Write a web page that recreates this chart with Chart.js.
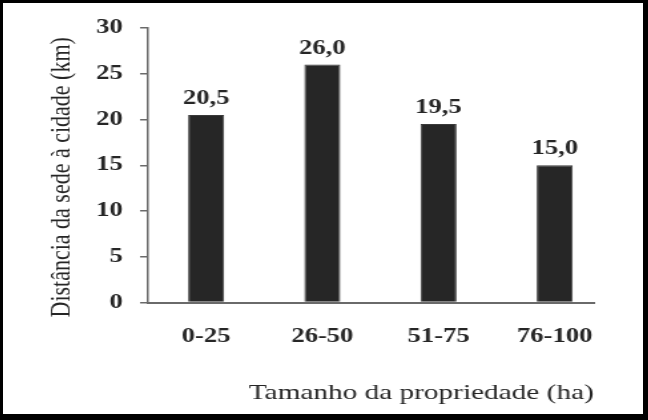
<!DOCTYPE html>
<html>
<head>
<meta charset="utf-8">
<script src="https://cdn.jsdelivr.net/npm/chart.js@4.4.1/dist/chart.umd.min.js"></script>
<style>
  html, body { margin: 0; padding: 0; background: #fff; }
  #frame {
    box-sizing: border-box;
    width: 648px; height: 420px;
    border-style: solid; border-color: #000;
    border-width: 3px 5px 6px 3px;
    background: #fff;
  }
</style>
</head>
<body>
<div id="frame">
  <!-- the original picture is stretched sideways, so the canvas is too -->
  <canvas id="chart" width="481" height="411" style="width:640px;height:411px"></canvas>
</div>
<script>
const categories = ['0-25', '26-50', '51-75', '76-100'];
const distances = [20.5, 26.0, 19.5, 15.0];
const yMin = 0, yMax = 30, yStep = 5;
const xTitle = 'Tamanho da propriedade (ha)';
const yTitle = 'Distância da sede à cidade (km)';

const inkColor = '#262626';
const axisColor = '#6a6a6a';
const serif = '"Liberation Serif", "Times New Roman", serif';

// y axis title sits a bit below the plot centre, like the original
const yTitlePlugin = {
  id: 'yTitle',
  afterDraw(chart) {
    const { ctx, chartArea } = chart;
    ctx.save();
    ctx.translate(chartArea.left - 65, (chartArea.top + chartArea.bottom) / 2 + 12);
    ctx.rotate(-Math.PI / 2);
    ctx.font = '22px ' + serif;
    ctx.fillStyle = inkColor;
    ctx.textAlign = 'center';
    ctx.textBaseline = 'middle';
    ctx.fillText(yTitle, 0, 0);
    ctx.restore();
  }
};

// value labels over the bars, with decimal comma
const valueLabels = {
  id: 'valueLabels',
  afterDatasetsDraw(chart) {
    const { ctx } = chart;
    const meta = chart.getDatasetMeta(0);
    ctx.save();
    ctx.font = 'bold 20px ' + serif;
    ctx.fillStyle = inkColor;
    ctx.textAlign = 'center';
    ctx.textBaseline = 'alphabetic';
    meta.data.forEach((bar, i) => {
      ctx.fillText(distances[i].toFixed(1).replace('.', ','), bar.x, bar.y - 11);
    });
    ctx.restore();
  }
};

function drawChart() {
  const ctx = document.getElementById('chart').getContext('2d');
  new Chart(ctx, {
    type: 'bar',
    data: {
      datasets: [{
        data: distances.map((v, i) => ({ x: i, y: v })),
        backgroundColor: inkColor,
        borderColor: '#3a3a3a',
        borderWidth: 1,
        categoryPercentage: 1,
        barPercentage: 0.31
      }]
    },
    options: {
      responsive: false,
      animation: false,
      devicePixelRatio: 1,
      layout: { padding: { left: 57, right: 37, top: 22, bottom: 8 } },
      plugins: {
        legend: { display: false },
        tooltip: { enabled: false }
      },
      scales: {
        x: {
          type: 'linear',
          offset: false,
          bounds: 'data',
          min: -0.5,
          max: 3.336,
          afterBuildTicks(scale) {
            scale.ticks = categories.map((c, i) => ({ value: i }));
          },
          grid: { display: false, drawTicks: false, offset: false },
          border: { display: true, color: axisColor, width: 2 },
          ticks: {
            padding: 22,
            color: inkColor,
            font: { family: serif, size: 20, weight: 'bold' },
            callback: (v) => categories[v]
          },
          title: {
            display: true,
            text: xTitle,
            align: 'end',
            color: inkColor,
            font: { family: serif, size: 22 },
            padding: { top: 9, bottom: 0 }
          }
        },
        y: {
          min: yMin,
          max: yMax,
          grid: {
            drawOnChartArea: false,
            drawTicks: true,
            tickLength: 6,
            color: axisColor,
            lineWidth: 1.5
          },
          border: { display: true, color: axisColor, width: 1.5 },
          ticks: {
            stepSize: yStep,
            padding: 13,
            color: inkColor,
            font: { family: serif, size: 20, weight: 'bold' }
          }
        }
      }
    },
    plugins: [yTitlePlugin, valueLabels]
  });
}

// make sure the serif faces are ready before the first paint
Promise.all([
  document.fonts.load('bold 20px "Liberation Serif"'),
  document.fonts.load('22px "Liberation Serif"')
]).then(drawChart, drawChart);
</script>
</body>
</html>
